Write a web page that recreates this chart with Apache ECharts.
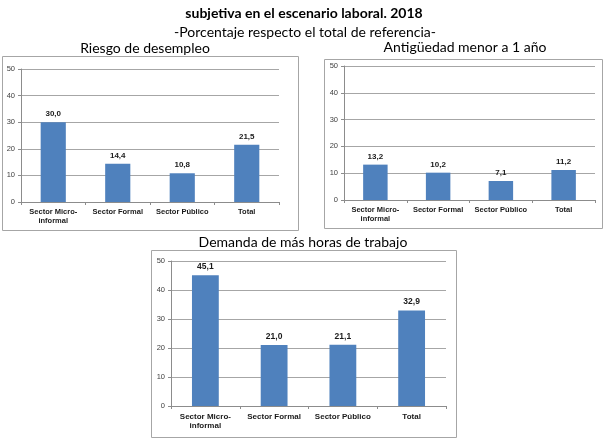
<!DOCTYPE html>
<html>
<head>
<meta charset="utf-8">
<script src="https://cdn.jsdelivr.net/npm/echarts@6/dist/echarts.min.js"></script>
<style>
html,body{margin:0;padding:0;background:#fff;}
#main{width:606px;height:439px;}
</style>
</head>
<body>
<div id="main"></div>
<script>
// datos
var categorias = ['Sector Micro-\ninformal', 'Sector Formal', 'Sector Público', 'Total'];
var riesgo = [30.0, 14.4, 10.8, 21.5];
var antiguedad = [13.2, 10.2, 7.1, 11.2];
var demanda = [45.1, 21.0, 21.1, 32.9];
var yMin = 0, yMax = 50, yPaso = 10;

var tituloFont = 'Lato, "Open Sans", sans-serif';
var ejeFont = '"Liberation Sans", Arial, sans-serif';
var azul = '#4f81bd';

function fmt(v){ return v.toFixed(1).replace('.', ','); }

// posiciones de cada grafico
var grids = [
	{left:21, top:69, width:258, height:133, cat:7.5, val:8},
	{left:344, top:66, width:251, height:134, cat:7.5, val:8},
	{left:171, top:261, width:275, height:145, cat:8, val:8.5}
];
var series_data = [riesgo, antiguedad, demanda];

var xAxis = [], yAxis = [], series = [];
for (var i = 0; i < 3; i++) {
	xAxis.push({
		type:'category', gridIndex:i, data:categorias,
		axisLine:{lineStyle:{color:'#8c8c8c'}},
		axisTick:{show:true, length:3, lineStyle:{color:'#8c8c8c'}},
		axisLabel:{color:'#1a1a1a', fontFamily:ejeFont, fontWeight:'bold', fontSize:grids[i].cat, lineHeight:grids[i].cat+1, margin:6, interval:0}
	});
	yAxis.push({
		type:'value', gridIndex:i, min:yMin, max:yMax, interval:yPaso,
		axisLine:{show:true, lineStyle:{color:'#8c8c8c'}},
		axisTick:{show:true, length:3, lineStyle:{color:'#8c8c8c'}},
		axisLabel:{color:'#404040', fontFamily:ejeFont, fontSize:7.5, margin:6},
		splitLine:{lineStyle:{color:'#a6a6a6'}}
	});
	series.push({
		type:'bar', xAxisIndex:i, yAxisIndex:i, data:series_data[i],
		barWidth:'39%',
		itemStyle:{color:azul},
		label:{show:true, position:'top', distance:4, color:'#1a1a1a', fontFamily:ejeFont, fontWeight:'bold', fontSize:grids[i].val,
			formatter:function(p){ return fmt(p.value); }}
	});
}

var cajas = [[2,56,296,174],[324,59,278,169],[151,250,305,187]];
var graphic = [];
for (var j = 0; j < cajas.length; j++) {
	graphic.push({type:'rect', z:-1, shape:{x:cajas[j][0]+0.5, y:cajas[j][1]+0.5, width:cajas[j][2], height:cajas[j][3]},
		style:{fill:'none', stroke:'#a6a6a6', lineWidth:1}});
}
var textos = [
	['subjetiva en el escenario laboral. 2018', 304, 13, 'bold 14px'],
	['-Porcentaje respecto el total de referencia-', 305, 32, '14px'],
	['Riesgo de desempleo', 145, 48, '14px'],
	['Antigüedad menor a 1 año', 465, 47, '14px'],
	['Demanda de más horas de trabajo', 303, 242, '14px']
];
for (var k = 0; k < textos.length; k++) {
	graphic.push({type:'text', x:textos[k][1], y:textos[k][2],
		style:{text:textos[k][0], textAlign:'center', textVerticalAlign:'middle', fill:'#000',
			font:textos[k][3] + ' ' + tituloFont}});
}

var chart = echarts.init(document.getElementById('main'));
chart.setOption({
	animation:false,
	grid:grids.map(function(g){ return {left:g.left, top:g.top, width:g.width, height:g.height}; }),
	xAxis:xAxis,
	yAxis:yAxis,
	series:series,
	graphic:graphic
});
</script>
</body>
</html>
